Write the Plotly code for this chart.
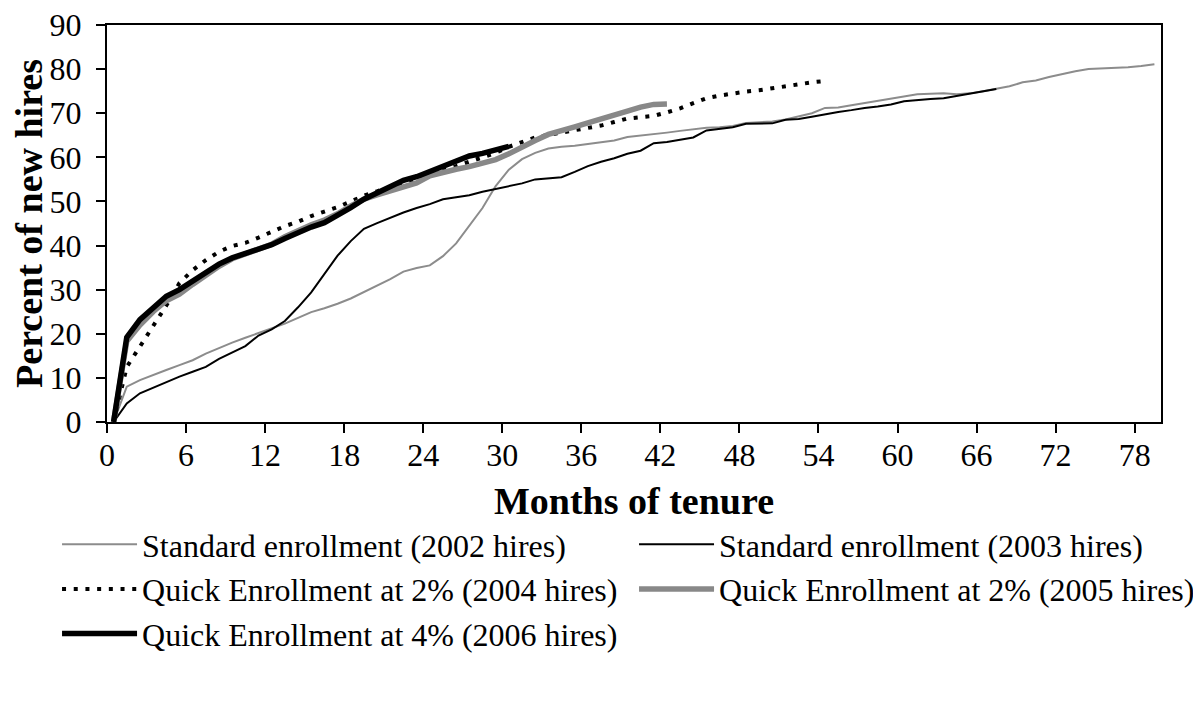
import plotly.graph_objects as go

# Cumulative share of new hires enrolled, by month of tenure
std_2002 = [0, 8.0, 9.5, 10.7, 11.8, 12.9, 14.0, 15.5, 16.8, 18.0, 19.1, 20.2, 21.2, 22.3, 23.6,
            24.9, 25.8, 26.8, 28.0, 29.5, 31.0, 32.4, 34.1, 34.9, 35.5, 37.6, 40.5, 44.5, 48.5,
            53.5, 57.2, 59.6, 61.0, 62.0, 62.4, 62.6, 63.0, 63.3, 63.8, 64.6, 64.9, 65.2, 65.6,
            66.0, 66.3, 66.7, 66.8, 67.1, 67.8, 68.0, 68.1, 68.6, 69.3, 70.0, 71.2, 71.3, 71.8,
            72.3, 72.9, 73.3, 73.9, 74.3, 74.4, 74.5, 74.3, 74.5, 75.0, 75.6, 76.1, 77.0, 77.4,
            78.2, 78.9, 79.5, 80.0, 80.1, 80.2, 80.4, 80.7, 81.1]
std_2003 = [0, 4.2, 6.5, 7.8, 9.0, 10.3, 11.4, 12.5, 14.3, 15.8, 17.2, 19.6, 21.0, 22.9, 26.0,
            29.4, 33.5, 37.7, 41.0, 43.8, 45.1, 46.3, 47.5, 48.5, 49.4, 50.5, 50.9, 51.4, 52.2,
            52.8, 53.4, 54.1, 55.0, 55.2, 55.5, 56.7, 58.0, 59.0, 59.8, 60.8, 61.5, 63.2, 63.5,
            64.0, 64.5, 66.1, 66.5, 66.8, 67.6, 67.7, 67.7, 68.5, 68.7, 69.2, 69.8, 70.3, 70.7,
            71.2, 71.5, 72.0, 72.7, 73.0, 73.2, 73.4, 73.9, 74.5, 75.0, 75.5]
qe2_2004 = [0, 12.5, 17.1, 21.7, 26.4, 31.5, 34.4, 36.7, 38.6, 39.9, 40.6, 41.8, 43.2, 44.4,
            45.4, 46.7, 47.7, 48.7, 50.0, 51.3, 52.3, 53.2, 54.1, 55.0, 56.0, 57.0, 58.0, 59.0,
            60.0, 61.0, 62.4, 63.5, 64.5, 65.1, 65.6, 66.1, 66.5, 67.2, 68.0, 68.8, 69.1, 69.4,
            70.2, 71.1, 72.3, 73.4, 74.0, 74.5, 74.9, 75.2, 75.7, 76.2, 76.7, 77.0, 77.3]
qe2_2005 = [0, 18.3, 22.0, 25.0, 27.5, 29.0, 31.2, 33.3, 35.3, 37.0, 38.2, 39.2, 40.3, 42.0,
            43.4, 44.7, 45.8, 47.2, 49.0, 50.5, 51.5, 52.5, 53.3, 54.2, 55.8, 56.7, 57.3, 57.9,
            58.6, 59.5, 60.8, 62.4, 63.8, 65.2, 66.2, 66.9, 67.8, 68.8, 69.6, 70.5, 71.4, 72.0,
            72.1]
qe4_2006 = [0, 19.2, 23.2, 26.0, 28.5, 30.0, 32.0, 34.0, 35.8, 37.2, 38.2, 39.2, 40.2, 41.6,
            43.0, 44.2, 45.2, 46.8, 48.6, 50.5, 52.0, 53.6, 54.8, 55.6, 56.8, 57.8, 59.2, 60.3,
            60.9, 61.6, 62.5]

tick_labels = [str(m) for m in range(0, 79, 6)]

series = [
    ("Standard enrollment (2002 hires)", std_2002, dict(color="#8c8c8c", width=2)),
    ("Standard enrollment (2003 hires)", std_2003, dict(color="black", width=2)),
    ("Quick Enrollment at 2% (2004 hires)", qe2_2004, dict(color="black", width=4, dash="4px,7.7px")),
    ("Quick Enrollment at 2% (2005 hires)", qe2_2005, dict(color="#888888", width=5.5)),
    ("Quick Enrollment at 4% (2006 hires)", qe4_2006, dict(color="black", width=5.5)),
]

font = "Liberation Serif, Times New Roman, serif"

fig = go.Figure()
for name, vals, line in series:
    fig.add_scatter(x=list(range(len(vals))), y=vals, mode="lines", name=name, line=line)

# Excel-style category axis: ticks sit between months
fig.update_xaxes(range=[-0.5, 79.5], tickvals=[int(t) - 0.5 for t in tick_labels], ticktext=tick_labels,
                 ticks="outside", ticklen=9, tickwidth=1.5, tickcolor="black",
                 showline=True, linewidth=2, linecolor="black", mirror=True,
                 showgrid=False, zeroline=False, ticklabelstandoff=-5, automargin=False,
                 ticklabeloverflow="allow",
                 title=dict(text="<b>Months of tenure</b>", standoff=15))
fig.update_yaxes(range=[0, 90], dtick=10, ticks="outside", ticklen=9, tickwidth=1.5, tickcolor="black",
                 showline=True, linewidth=2, linecolor="black", mirror=True,
                 showgrid=False, zeroline=False, ticklabelstandoff=8, automargin=False,
                 ticklabeloverflow="allow",
                 title=dict(text="<b>Percent of new hires</b>", standoff=12))
# page body adds an 8px offset, so the figure is 8px smaller than the window
fig.update_layout(
    width=1193, height=699,
    margin=dict(l=99, r=40, t=17, b=285, autoexpand=False),
    plot_bgcolor="white", paper_bgcolor="white",
    font=dict(family=font, size=32, color="black"),
    legend=dict(orientation="h", x=-0.0474, xanchor="left", y=-0.2393, yanchor="top",
                entrywidth=487, entrywidthmode="pixels", itemwidth=75,
                font=dict(size=32), traceorder="normal"),
)

fig.write_html("out.html")
